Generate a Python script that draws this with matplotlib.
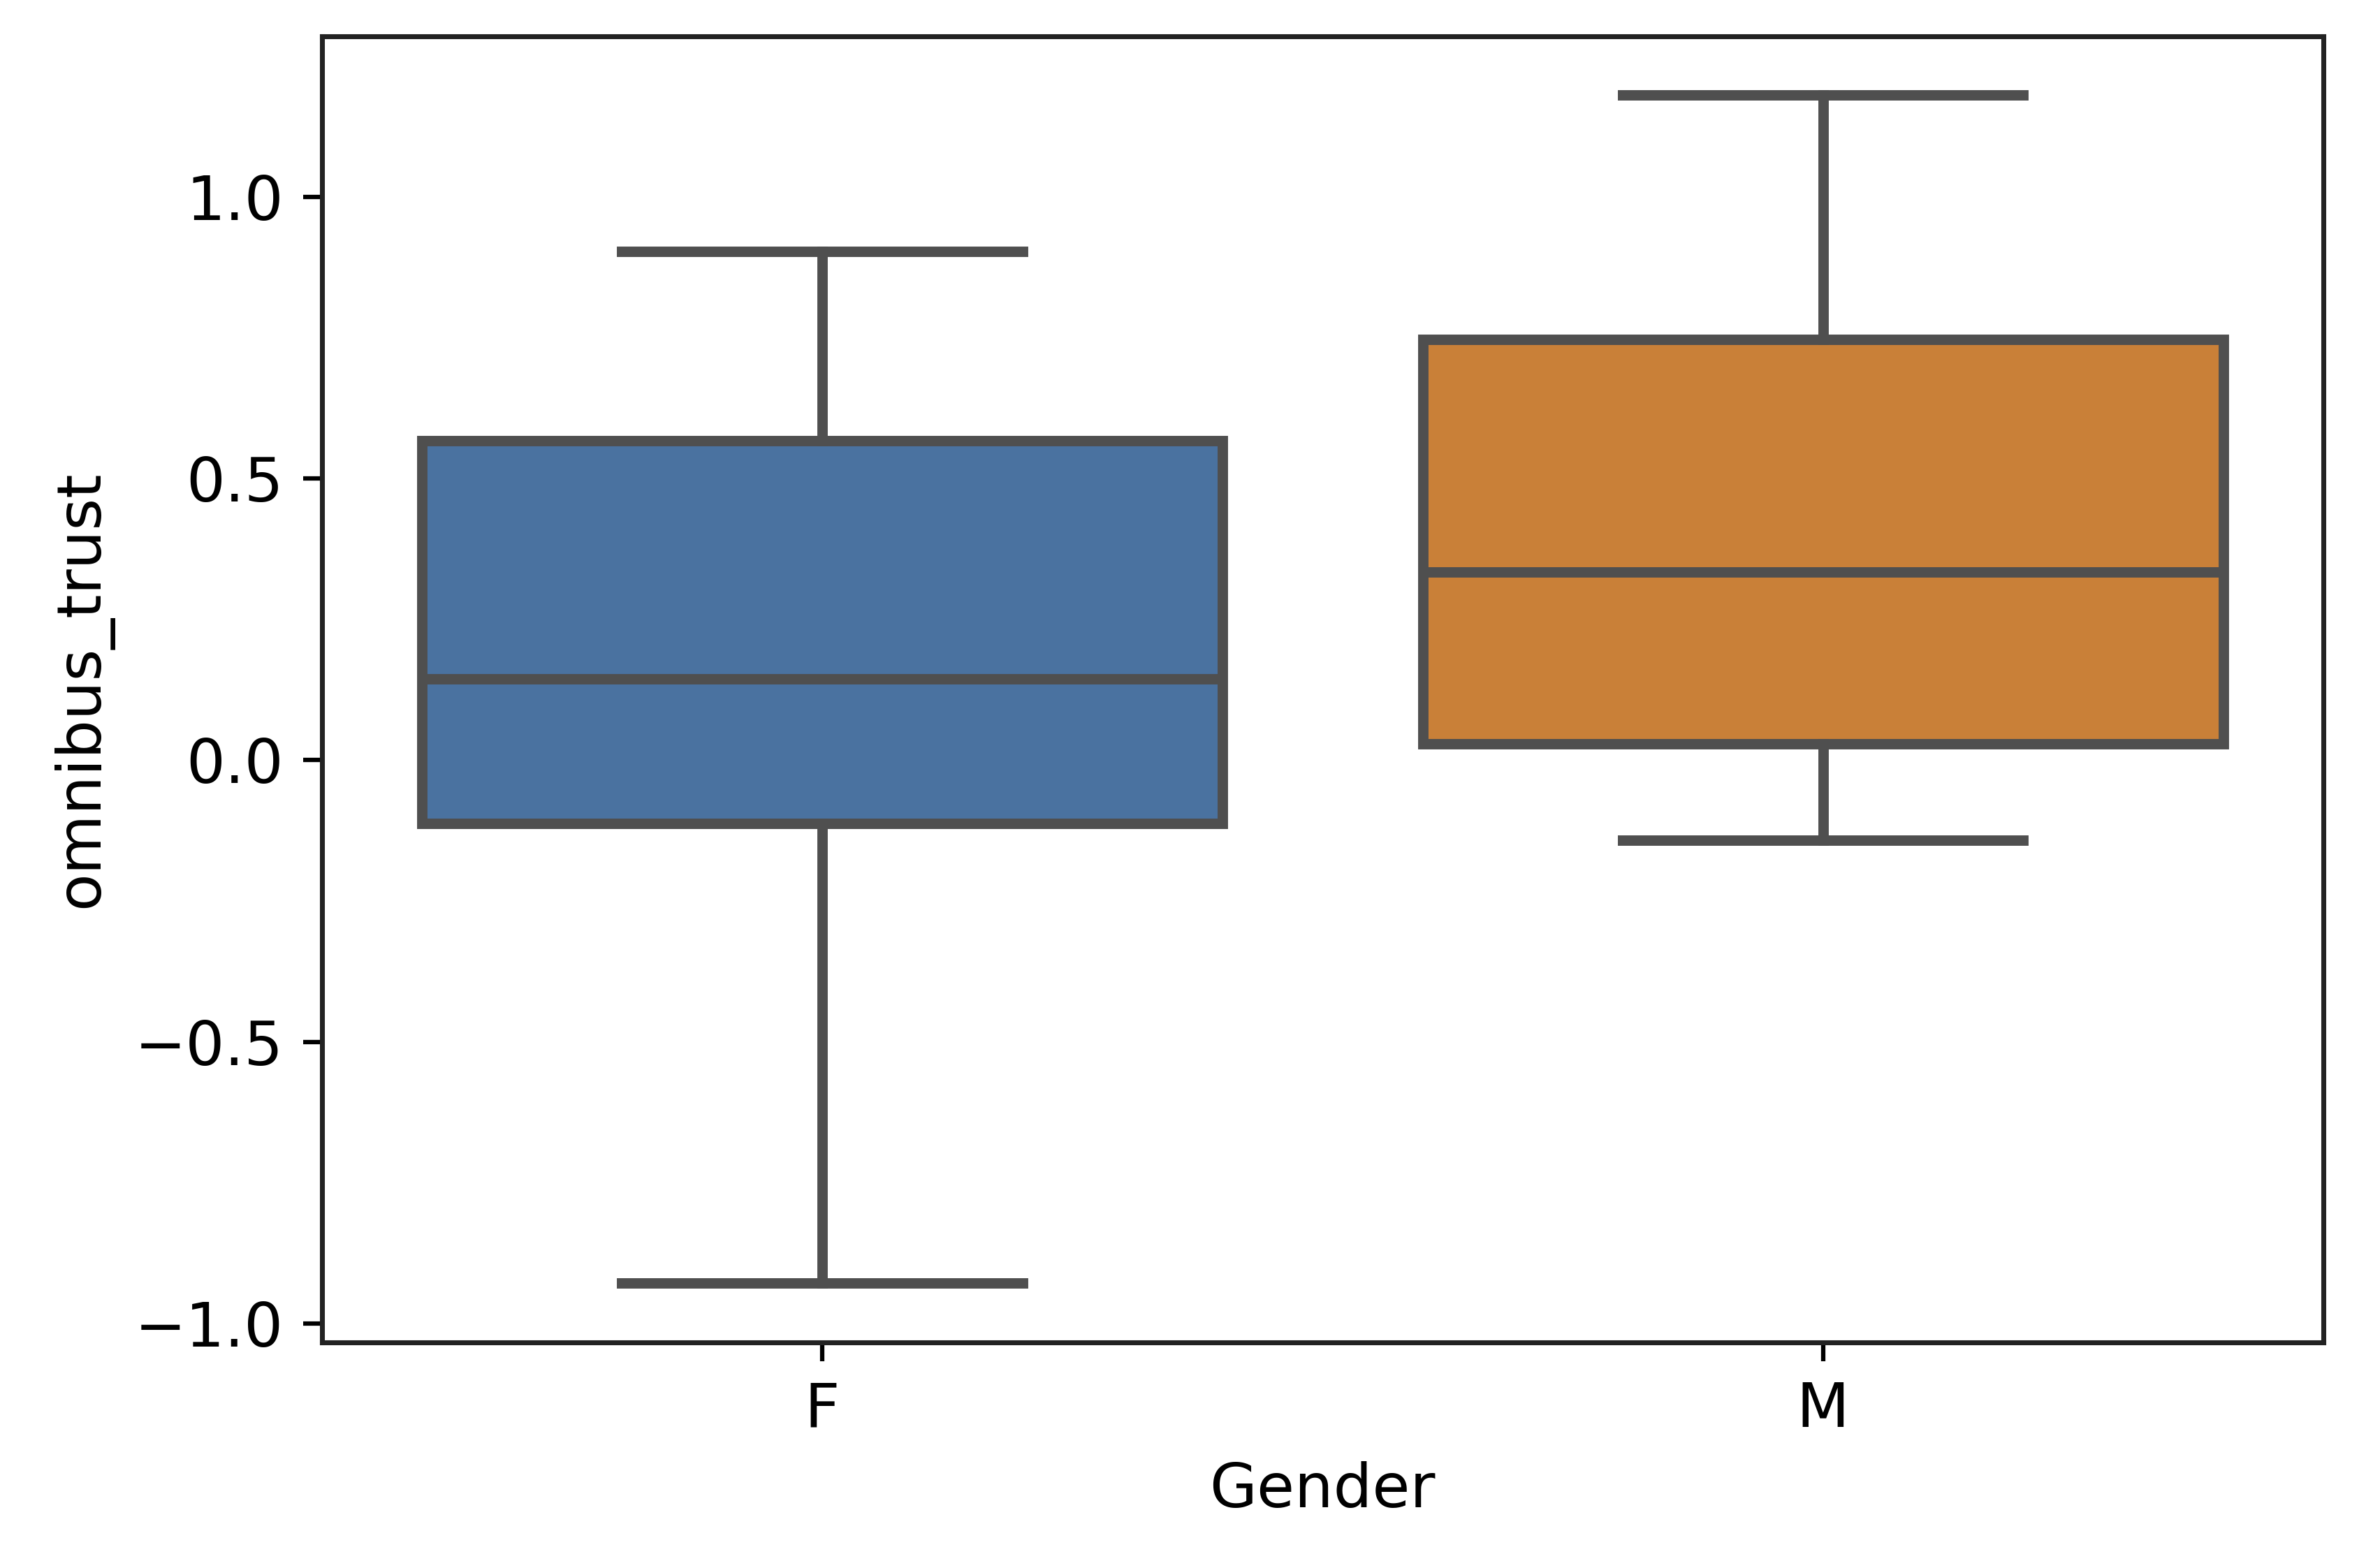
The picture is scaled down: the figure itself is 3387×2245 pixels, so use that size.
import matplotlib
matplotlib.use('Agg')
import matplotlib.pyplot as plt

# Valori (box plot per genere)
genders = ['F', 'M']
whisker_low = [-0.928, -0.142]
q1 = [-0.112, 0.029]
median = [0.144, 0.334]
q3 = [0.567, 0.746]
whisker_high = [0.903, 1.180]
box_colors = ['#4a72a0', '#c98038']

stats = []
for i, g in enumerate(genders):
    stats.append({'label': g, 'whislo': whisker_low[i], 'q1': q1[i], 'med': median[i],
                  'q3': q3[i], 'whishi': whisker_high[i], 'fliers': []})

plt.rcParams['font.family'] = 'DejaVu Sans'
plt.rcParams['font.size'] = 11.2

fig = plt.figure(figsize=(6, 3.977), dpi=564.5)
ax = fig.add_axes([0.136, 0.144, 0.846, 0.833])

line_col = '#4f4f4f'
lw = 1.9
bp = ax.bxp(stats, positions=range(len(genders)), widths=0.8, patch_artist=True,
            showfliers=False,
            boxprops=dict(edgecolor=line_col, linewidth=lw),
            whiskerprops=dict(color=line_col, linewidth=lw),
            capprops=dict(color=line_col, linewidth=lw),
            medianprops=dict(color=line_col, linewidth=lw))
for patch, c in zip(bp['boxes'], box_colors):
    patch.set_facecolor(c)

ax.set_xlim(-0.5, 1.5)
ax.set_ylim(-1.033, 1.285)
ax.set_yticks([-1.0, -0.5, 0.0, 0.5, 1.0])
ax.set_xticks([0, 1])
ax.set_xticklabels(genders)
ax.set_xlabel('Gender')
ax.set_ylabel('omnibus_trust')
for s in ax.spines.values():
    s.set_linewidth(0.9)
    s.set_color('#222222')

fig.savefig('out.png', dpi=564.5)
